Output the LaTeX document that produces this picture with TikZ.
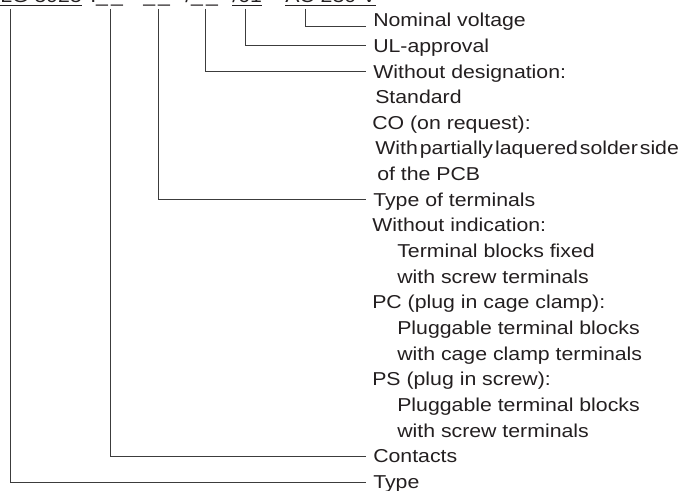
\documentclass[tikz,border=0pt]{standalone}
\usepackage{fontspec}
\setmainfont{Liberation Sans}[FakeStretch=1.14]
\definecolor{inkgray}{RGB}{35,31,32}
\definecolor{linegray}{RGB}{60,60,60}
\usetikzlibrary{positioning}

\begin{document}
\begin{tikzpicture}[x=0.75pt, y=-0.75pt,
      code/.style={anchor=base west, inner sep=0pt, text=inkgray,
          font=\fontsize{14}{19}\selectfont},
      desc/.style={anchor=base west, inner xsep=5.25pt, inner ysep=0pt,
          text height=14.5pt, text depth=4.7pt, text=inkgray,
          font=\fontsize{14}{19}\selectfont},
      sub/.style={desc, inner xsep=0pt},
      lead/.style={draw=linegray, line width=0.75pt}
    ]
    \useasboundingbox (0,0) rectangle (698,491);

    % order code (only its lower edge shows)
    \node[code] (lg)  at (0,3)   {\underline{LG 5925}};
    \node[code] (cnt) at (90,3)  {.\_\,\_};
    \node[code] (trm) at (143,3) {\_\,\_};
    \node[code] (pcb) at (185,3) {/\_\,\_};
    \node[code] (ul)  at (232,3) {\underline{/61}};
    \node[code] (ac)  at (285,3) {\underline{AC 230 V}};

    \coordinate (dlg)  at (10,9);
    \coordinate (dcnt) at (110,9);
    \coordinate (dtrm) at (158,9);
    \coordinate (dpcb) at (205,9);
    \coordinate (dul)  at (245,9);
    \coordinate (dac)  at (305,9);

    % descriptions
    \node[desc] (nomv)  at (366,26.7)   {Nominal voltage};
    \node[desc] (ulap)  at (366,52.36)  {UL-approval};
    \node[desc] (desg)  at (366,78.02)  {Without designation:};
    \node[sub]  (std)   at (375,103.68) {Standard};
    \node[sub]  (co)    at (372,129.34) {CO (on request):};
    \node[sub]  (cosd)  at (375,155.0)  {With\hspace{1.5pt}partially\hspace{1.5pt}laquered\hspace{1.5pt}solder\hspace{1.5pt}side};
    \node[sub]  (copcb) at (377,180.66) {of the PCB};
    \node[desc] (tote)  at (366,206.32) {Type of terminals};
    \node[sub]  (woind) at (372,231.98) {Without indication:};
    \node[sub]  (tbf)   at (397,257.64) {Terminal blocks fixed};
    \node[sub]  (wst1)  at (397,283.3)  {with screw terminals};
    \node[sub]  (pc)    at (372,308.96) {PC (plug in cage clamp):};
    \node[sub]  (ptb1)  at (397,334.62) {Pluggable terminal blocks};
    \node[sub]  (wcc)   at (397,360.28) {with cage clamp terminals};
    \node[sub]  (ps)    at (372,385.94) {PS (plug in screw):};
    \node[sub]  (ptb2)  at (397,411.6)  {Pluggable terminal blocks};
    \node[sub]  (wst2)  at (397,437.26) {with screw terminals};
    \node[desc] (cont)  at (366,462.92) {Contacts};
    \node[desc] (type)  at (366,488.58) {Type};

    \draw[lead] (dac)  |- (nomv.base west);
    \draw[lead] (dul)  |- (ulap.west);
    \draw[lead] (dpcb) |- (desg.west);
    \draw[lead] (dtrm) |- (tote.west);
    \draw[lead] (dcnt) |- (cont.west);
    \draw[lead] (dlg)  |- (type.west);
  \end{tikzpicture}
\end{document}
